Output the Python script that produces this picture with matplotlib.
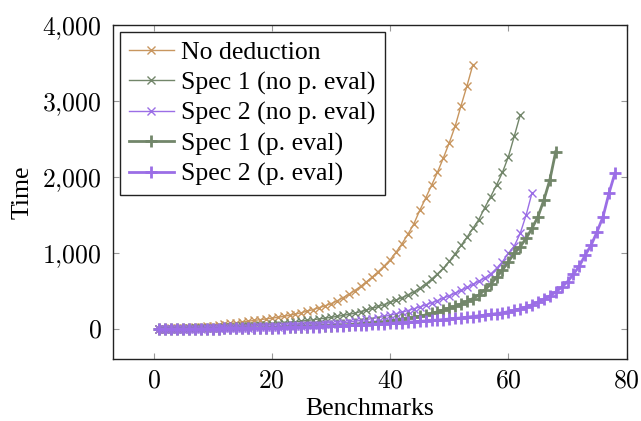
import matplotlib
matplotlib.use('Agg')
import matplotlib.pyplot as plt
from matplotlib.ticker import FuncFormatter

plt.rcParams['font.family'] = ['Liberation Serif', 'DejaVu Serif']
plt.rcParams['mathtext.fontset'] = 'cm'

# cactus data: time per benchmark (sorted)
no_deduction = [3, 5, 8, 11, 14, 18, 23, 29, 36, 44,
                53, 62, 72, 82, 92, 102, 112, 122, 132, 142,
                153, 166, 180, 196, 214, 234, 256, 280, 305, 332,
                368, 410, 455, 505, 560, 620, 685, 755, 830, 910,
                1010, 1120, 1245, 1380, 1560, 1720, 1890, 2060, 2250, 2450,
                2670, 2940, 3200, 3480]

spec1_no_eval = [1, 2, 3, 4, 5, 7, 9, 11, 13, 15,
                 18, 21, 25, 29, 33, 38, 43, 49, 55, 62,
                 69, 77, 85, 94, 103, 112, 122, 132, 142, 153,
                 165, 178, 192, 207, 228, 250, 272, 296, 322, 350,
                 380, 412, 448, 488, 535, 590, 655, 725, 800, 890,
                 990, 1100, 1207, 1325, 1440, 1596, 1741, 1895, 2062, 2267,
                 2539, 2816]

spec2_no_eval = [1, 1, 2, 2, 3, 4, 5, 6, 7, 8,
                 9, 10, 12, 14, 16, 18, 20, 22, 25, 28,
                 31, 34, 37, 40, 44, 48, 52, 56, 61, 66,
                 72, 80, 89, 100, 112, 125, 137, 150, 165, 182,
                 200, 220, 242, 265, 290, 316, 344, 374, 405, 438,
                 472, 508, 546, 586, 628, 672, 723, 798, 886, 996,
                 1092, 1259, 1500, 1794]

spec1_eval = [1, 1, 2, 2, 3, 3, 4, 4, 5, 5,
              6, 7, 8, 9, 10, 11, 12, 14, 16, 18,
              20, 22, 24, 26, 29, 32, 35, 38, 41, 45,
              49, 53, 57, 62, 67, 73, 80, 88, 97, 107,
              117, 128, 140, 153, 168, 185, 204, 226, 250, 275,
              300, 330, 362, 400, 447, 513, 588, 680, 776, 886,
              996, 1083, 1193, 1325, 1478, 1697, 1960, 2333]

spec2_eval = [1, 1, 2, 2, 3, 3, 4, 4, 5, 5,
              6, 7, 8, 9, 10, 11, 12, 13, 14, 15,
              17, 19, 21, 23, 25, 27, 29, 31, 34, 37,
              40, 43, 46, 50, 54, 58, 62, 66, 70, 75,
              80, 85, 90, 95, 100, 106, 112, 118, 124, 131,
              138, 146, 155, 164, 173, 182, 192, 202, 213, 228,
              245, 265, 290, 320, 355, 392, 435, 487, 548, 623,
              720, 829, 974, 1105, 1281, 1478, 1785, 2048]

series = [
    ('No deduction', no_deduction, '#c8965f', 'x', 1.0, 6, 1.0),
    ('Spec 1 (no p. eval)', spec1_no_eval, '#72866a', 'x', 1.0, 6, 1.0),
    ('Spec 2 (no p. eval)', spec2_no_eval, '#9b6ee6', 'x', 1.0, 6, 1.0),
    ('Spec 1 (p. eval)', spec1_eval, '#72866a', '+', 2.0, 8.5, 2.0),
    ('Spec 2 (p. eval)', spec2_eval, '#9b6ee6', '+', 2.0, 8.5, 2.0),
]

fig = plt.figure(figsize=(6.41, 4.21), dpi=100)
ax = fig.add_axes([0.1758, 0.1473, 0.8019, 0.7933])

for name, vals, col, mk, lw, ms, mew in series:
    xs = list(range(1, len(vals) + 1))
    ax.plot(xs, vals, color=col, marker=mk, lw=lw, ms=ms, mew=mew, label=name)

ax.set_xlim(-6.9, 80)
ax.set_ylim(-395, 4000)
ax.set_xticks([0, 20, 40, 60, 80])
ax.set_yticks([0, 1000, 2000, 3000, 4000])
ax.xaxis.set_major_formatter(FuncFormatter(lambda v, p: r'$%d$' % v))
ax.yaxis.set_major_formatter(FuncFormatter(lambda v, p: ('$%s$' % format(int(v), ',')).replace(',', '{,}')))
ax.tick_params(direction='in', length=4.5, width=0.8, color='#999999',
               top=True, right=True, labelsize=18.5, pad=8)
for s in ax.spines.values():
    s.set_linewidth(1.0)
    s.set_color('#222222')

ax.set_xlabel('Benchmarks', fontsize=18.5, labelpad=4)
ax.set_ylabel('Time', fontsize=18.5, labelpad=6)

leg = ax.legend(loc='upper left', fontsize=18.5, frameon=True, fancybox=False,
                edgecolor='#222222', framealpha=1, borderpad=0.35,
                labelspacing=0.28, handlelength=1.75, handletextpad=0.3,
                borderaxespad=0.27, numpoints=1)
leg.get_frame().set_linewidth(1.0)

fig.savefig('out.png', dpi=100)
